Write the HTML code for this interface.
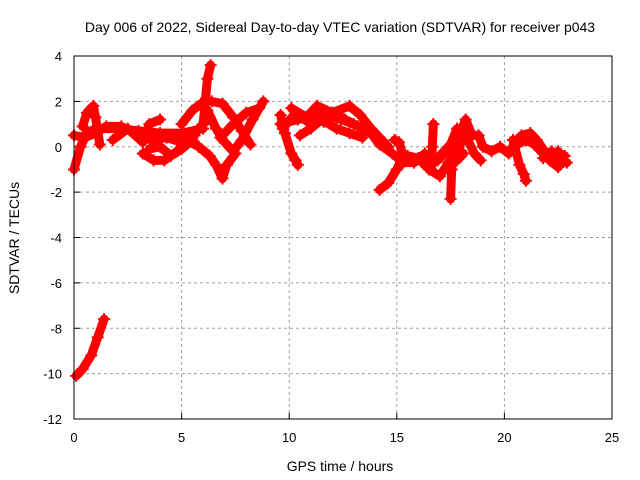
<!DOCTYPE html>
<html><head><meta charset="utf-8"><style>
body{margin:0;background:#fff}
svg{display:block;font-family:"Liberation Sans",sans-serif}
</style></head><body>
<svg id="chart" width="640" height="480">
<text x="340" y="32" text-anchor="middle" font-size="14">Day 006 of 2022, Sidereal Day-to-day VTEC variation (SDTVAR) for receiver p043</text>
<text x="340" y="471" text-anchor="middle" font-size="14">GPS time / hours</text>
<text transform="translate(19,238) rotate(-90)" text-anchor="middle" font-size="14">SDTVAR / TECUs</text>
<g id="grid"></g><g id="ticks"></g><g id="series"></g>
<rect x="74" y="56" width="538" height="363" fill="none" stroke="#000" stroke-width="1"/>
</svg>
<script>
const xTicks=[0,5,10,15,20,25];
const yTicks=[4,2,0,-2,-4,-6,-8,-10,-12];
const arcs=[
[[0,-1],[0.3,0],[0.6,0.6],[1,0.8],[2,0.8],[3,0.7],[4,0.6],[5,0.6],[6,0.8]],
[[0,0.5],[0.5,0.4],[1,0.6],[1.5,0.9],[2.2,0.9],[3,0.5],[3.6,0.3],[4.3,0.4],[5,0.2],[5.6,0.5]],
[[0.4,0.9],[0.6,1.5],[0.9,1.8],[1.0,1.3],[1.2,0.1]],
[[0.1,-10.1],[0.4,-9.8],[0.8,-9.2],[1.1,-8.4],[1.4,-7.6]],
[[1.8,0.3],[2.5,0.8],[3.2,0.2],[3.5,1.0],[4,1.2]],
[[3.2,-0.3],[3.7,-0.6],[4.2,-0.6],[4.8,-0.2],[5.3,0.4],[5.8,0.8],[6.3,1.3]],
[[3.5,-0.1],[4,0],[4.5,-0.4],[5,-0.1],[5.5,0.3]],
[[5,1],[5.5,1.6],[5.9,1.9],[6.2,1.6],[6.6,0.8],[7.0,0.2],[7.4,-0.2],[7.8,0.3],[8.3,1.2],[8.8,2.0]],
[[5.2,0.3],[5.8,0],[6.3,-0.4],[6.6,-0.8],[6.9,-1.4],[7.1,-0.8],[7.5,-0.3]],
[[6.0,1.0],[6.1,2.0],[6.2,3.0],[6.35,3.6]],
[[6.4,2.0],[6.9,1.9],[7.4,1.3],[7.8,0.7],[8.2,0.1]],
[[6.8,0.4],[7.4,1.0],[8,1.5],[8.6,1.7]],
[[9.6,1.4],[9.8,0.6],[10.1,-0.3],[10.3,-0.6],[10.4,-0.8]],
[[9.6,1.0],[10.4,1.2],[11,1.3],[11.6,1.1],[12,1.5],[12.6,1.2],[13.2,0.9],[13.8,0.6],[14.2,0.1],[14.8,-0.3],[15.3,-0.7],[15.8,-0.7],[16.3,-0.3],[16.5,-1.0],[17.0,-1.3],[17.4,-0.7],[17.8,-0.2],[18.0,0.2]],
[[10.1,1.7],[10.8,1.3],[11.3,1.8],[12,1.5],[12.8,1.8],[13.3,1.4],[13.8,0.8],[14.2,0.4],[14.6,0.0]],
[[10.5,0.5],[11,0.8],[11.5,1.2],[12.2,0.8],[12.8,0.6],[13.4,0.4]],
[[9.7,0.8],[10.3,1.5],[11,1.0],[11.6,1.5],[12.4,1.2],[13,1.0]],
[[14.2,-1.9],[14.6,-1.6],[15.0,-1.0],[15.3,-0.4],[15.1,0.2],[14.9,0.3]],
[[15.5,-0.4],[16,-0.5],[16.4,-0.9],[16.9,-0.6],[17.3,-0.2],[17.8,-0.6],[18.1,-0.3]],
[[16.6,-1.0],[16.65,0],[16.7,1.0]],
[[17.5,-2.3],[17.55,-1.0],[17.6,0.2]],
[[16.5,-0.9],[17,-0.4],[17.5,0.1],[17.8,0.8],[18.2,0.5],[18.6,-0.3],[18.9,-0.6]],
[[17.9,0.5],[18.2,1.2],[18.5,0.5],[18.8,0.5],[19.0,0],[19.4,-0.2],[19.8,0],[20.2,-0.3],[20.5,0.2],[20.8,0.5],[21.2,0.6],[21.5,0.3],[21.8,-0.1],[22.1,-0.6],[22.5,-0.9],[22.8,-0.4]],
[[20.4,0.3],[20.7,-0.8],[20.9,-1.2],[21,-1.5]],
[[20.6,0.1],[21,0.3],[21.4,0.1],[21.8,-0.3],[22.2,-0.4],[22.5,-0.2]],
[[21.8,-0.5],[22.2,-0.2],[22.5,-0.6],[22.9,-0.7]]
];
const NS='http://www.w3.org/2000/svg';
const X=h=>74+h*(538/25), Y=v=>56+(4-v)*(363/16);
function mk(t,a,p){const e=document.createElementNS(NS,t);for(const k in a)e.setAttribute(k,a[k]);p.appendChild(e);return e;}
const g=document.getElementById('grid'),tk=document.getElementById('ticks'),s=document.getElementById('series');
xTicks.forEach(t=>{
 if(t>0&&t<25){const l=mk('line',{x1:X(t),x2:X(t),y1:56,y2:419,stroke:'#a0a0a0','stroke-dasharray':'3,3'},g);
 
 }
 mk('line',{x1:X(t),x2:X(t),y1:419,y2:413,stroke:'#000'},tk);
 const tx=mk('text',{x:X(t),y:442,'text-anchor':'middle','font-size':13},tk);tx.textContent=t;
 
 
});
yTicks.forEach(t=>{
 if(t<4&&t>-12){const l=mk('line',{x1:74,x2:612,y1:Y(t),y2:Y(t),stroke:'#a0a0a0','stroke-dasharray':'3,3'},g);
 
 }
 mk('line',{x1:74,x2:80,y1:Y(t),y2:Y(t),stroke:'#000'},tk);
 const tx=mk('text',{x:62,y:Y(t)+5,'text-anchor':'end','font-size':13},tk);tx.textContent=t;
 
 
});
arcs.forEach(a=>{
 const pl=mk('polyline',{points:a.map(p=>X(p[0])+','+Y(p[1])).join(' '),fill:'none',stroke:'#f00','stroke-width':9,'stroke-linejoin':'round','stroke-linecap':'round'},s);
 
 
 a.forEach(p=>{const m=mk('path',{d:`M${X(p[0])-6},${Y(p[1])}h12M${X(p[0])},${Y(p[1])-6}v12`,stroke:'#f00','stroke-width':2},s);
 
 });
});
</script>
</body></html>
